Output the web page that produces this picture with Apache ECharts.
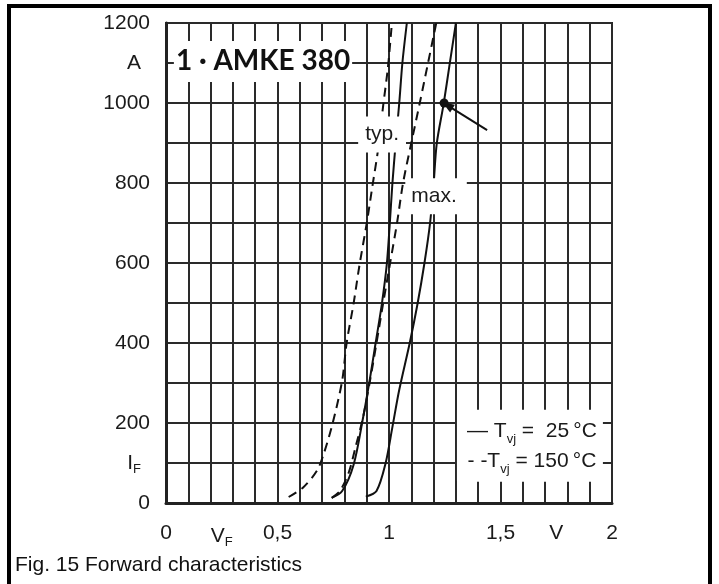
<!DOCTYPE html>
<html><head><meta charset="utf-8">
<script src="https://cdn.jsdelivr.net/npm/echarts@6/dist/echarts.min.js"></script>
<style>html,body{margin:0;padding:0;background:#fff}#c{width:719px;height:584px}</style>
</head><body><div id="c"></div>
<script>
// ---- data (V in volts, I in amperes) ----
const typ25V  = [0.743,0.79,0.841,0.882,0.913,0.94,0.968,0.99,1.003,1.015,1.03,1.046,1.06,1.08];
const typ25I  = [13,30,95,208,306,400,498,596,694,797,900,1000,1100,1200];
const typ150V = [0.55,0.615,0.677,0.708,0.749,0.79,0.81,0.841,0.868,0.9,0.927,0.95,0.974,0.995,1.013];
const typ150I = [15,39,81,124,203,306,400,498,596,699,797,880,994,1088,1200];
const max25V  = [0.896,0.944,0.985,1.015,1.046,1.093,1.128,1.159,1.184,1.2,1.214,1.245,1.272,1.30];
const max25I  = [16,30,100,189,283,400,498,600,699,797,898,998,1097,1200];
const max150V = [0.743,0.78,0.82,0.851,0.882,0.913,0.944,0.974,1.005,1.036,1.063,1.10,1.138,1.175,1.212];
const max150I = [13,30,77,142,210,300,400,500,600,700,800,900,1000,1100,1200];
// tick labels
const yTickLabels = {0:'0',100:'{u|I}{us|F}',200:'200',400:'400',600:'600',800:'800',1000:'1000',1100:'{a|A}',1200:'1200'};
const xTickLabels = {0:'0',0.25:'{v|V}{vs|F}',0.5:'0,5',1:'1',1.5:'1,5',1.75:'V',2:'2'};
// annotations (data coords)
const refPoint = [1.247, 1000];
const arrowFrom = [1.44, 932];
const arrowTo = [1.262, 994];
const titlePos = [0.435, 1104];
const typPos = [0.969, 921];
const maxPos = [1.211, 767];
const legendPos = [1.632, 143];
const titleText = '1 · AMKE 380';
const caption = 'Fig. 15 Forward characteristics';

const pair = (xs, ys) => xs.map((x, i) => [x, ys[i]]);
const FONT = 'Liberation Sans, Arial, Helvetica, sans-serif';
const FS = 21;
const chart = echarts.init(document.getElementById('c'), null, {renderer: 'canvas'});

const lineBase = (name, data, dashed) => ({
  type: 'line', name, data, smooth: 0.3, showSymbol: false, symbol: 'none', z: 3,
  lineStyle: {color: '#111', width: 2, type: dashed ? [9, 6] : 'solid'},
  clip: true, silent: true
});

const annoLabel = (pos, text, extra) => ({
  value: pos,
  itemStyle: {opacity: 1},
  label: Object.assign({show: true, position: 'inside', formatter: text, backgroundColor: '#fff',
    color: '#1a1a1a', fontFamily: FONT, fontSize: FS}, extra)
});

chart.setOption({
  animation: false,
  backgroundColor: '#fff',
  grid: {left: 166, right: 107, top: 23, bottom: 81, show: true, borderColor: '#222', borderWidth: 2},
  xAxis: [
    {type: 'value', min: 0, max: 2, interval: 0.1, position: 'bottom',
     axisLine: {show: true, onZero: false, lineStyle: {color: '#222', width: 3}},
     axisTick: {show: false}, axisLabel: {show: false},
     splitLine: {show: true, lineStyle: {color: '#2a2a2a', width: 2}}},
    {type: 'value', min: 0, max: 2, interval: 0.25, position: 'bottom',
     axisLine: {show: false}, axisTick: {show: false}, splitLine: {show: false},
     axisLabel: {show: true, margin: 20, color: '#1a1a1a', fontFamily: FONT, fontSize: FS,
       formatter: v => { const k = Math.round(v * 100) / 100; return xTickLabels[k] !== undefined ? xTickLabels[k] : ''; },
       rich: {v: {fontSize: FS, fontFamily: FONT, color: '#1a1a1a', lineHeight: 26},
              vs: {fontSize: 13, fontFamily: FONT, color: '#1a1a1a', verticalAlign: 'bottom', lineHeight: 14}}}}
  ],
  yAxis: {type: 'value', min: 0, max: 1200, interval: 100,
    axisLine: {show: true, onZero: false, lineStyle: {color: '#222', width: 3}},
    axisTick: {show: false},
    splitLine: {show: true, lineStyle: {color: '#2a2a2a', width: 2}},
    axisLabel: {show: true, margin: 16, color: '#1a1a1a', fontFamily: FONT, fontSize: FS,
      formatter: v => yTickLabels[v] !== undefined ? yTickLabels[v] : '',
      rich: {u: {fontSize: FS, fontFamily: FONT, color: '#1a1a1a', lineHeight: 26},
             a: {fontSize: FS, fontFamily: FONT, color: '#1a1a1a', lineHeight: 26, padding: [0, 9, 0, 0]},
             us: {fontSize: 13, fontFamily: FONT, color: '#1a1a1a', verticalAlign: 'bottom', lineHeight: 16, padding: [0, 9, 0, 0]}}}},
  series: [
    lineBase('typ 25', pair(typ25V, typ25I), false),
    lineBase('typ 150', pair(typ150V, typ150I), true),
    lineBase('max 150', pair(max150V, max150I), true),
    Object.assign(lineBase('max 25', pair(max25V, max25I), false), {
      markPoint: {symbol: 'circle', symbolSize: 9, itemStyle: {color: '#111'}, label: {show: false},
        data: [{coord: refPoint}]},
      markLine: {silent: true, symbol: ['none', 'triangle'], symbolSize: [9, 12], label: {show: false},
        lineStyle: {color: '#111', width: 2, type: 'solid'},
        data: [[{coord: arrowFrom}, {coord: arrowTo}]]}
    }),
    {type: 'scatter', symbolSize: 0, z: 10, silent: true, xAxisIndex: 0,
     itemStyle: {opacity: 1}, emphasis: {disabled: true},
     data: [
       annoLabel(titlePos, titleText, {fontFamily: 'Lato, Open Sans, sans-serif', fontWeight: 'bold', fontSize: 28, color: '#111', padding: [7, 2, 6, 2]}),
       annoLabel(typPos, 'typ.', {padding: [8, 7, 7, 7]}),
       annoLabel(maxPos, 'max.', {padding: [8, 10, 7, 6]}),
       annoLabel(legendPos, '{t|— T}{s|vj}{t| =  25\u2009°C}\n{t|- -T}{s|vj}{t| = 150\u2009°C}', {
         padding: [6, 6, 6, 10],
         rich: {t: {fontSize: FS, fontFamily: FONT, color: '#1a1a1a', lineHeight: 30},
                s: {fontSize: 13, fontFamily: FONT, color: '#1a1a1a', verticalAlign: 'bottom', lineHeight: 18}}})
     ]}
  ],
  graphic: [
    {type: 'polyline', shape: {points: [[9, 590], [9, 6], [710, 6], [710, 590]]},
     style: {stroke: '#000', lineWidth: 4, fill: null}, z: 20},
    {type: 'text', left: 15, top: 555, style: {text: caption, fontFamily: FONT, fontSize: 21, fill: '#111'}, z: 20}
  ]
});
</script></body></html>
